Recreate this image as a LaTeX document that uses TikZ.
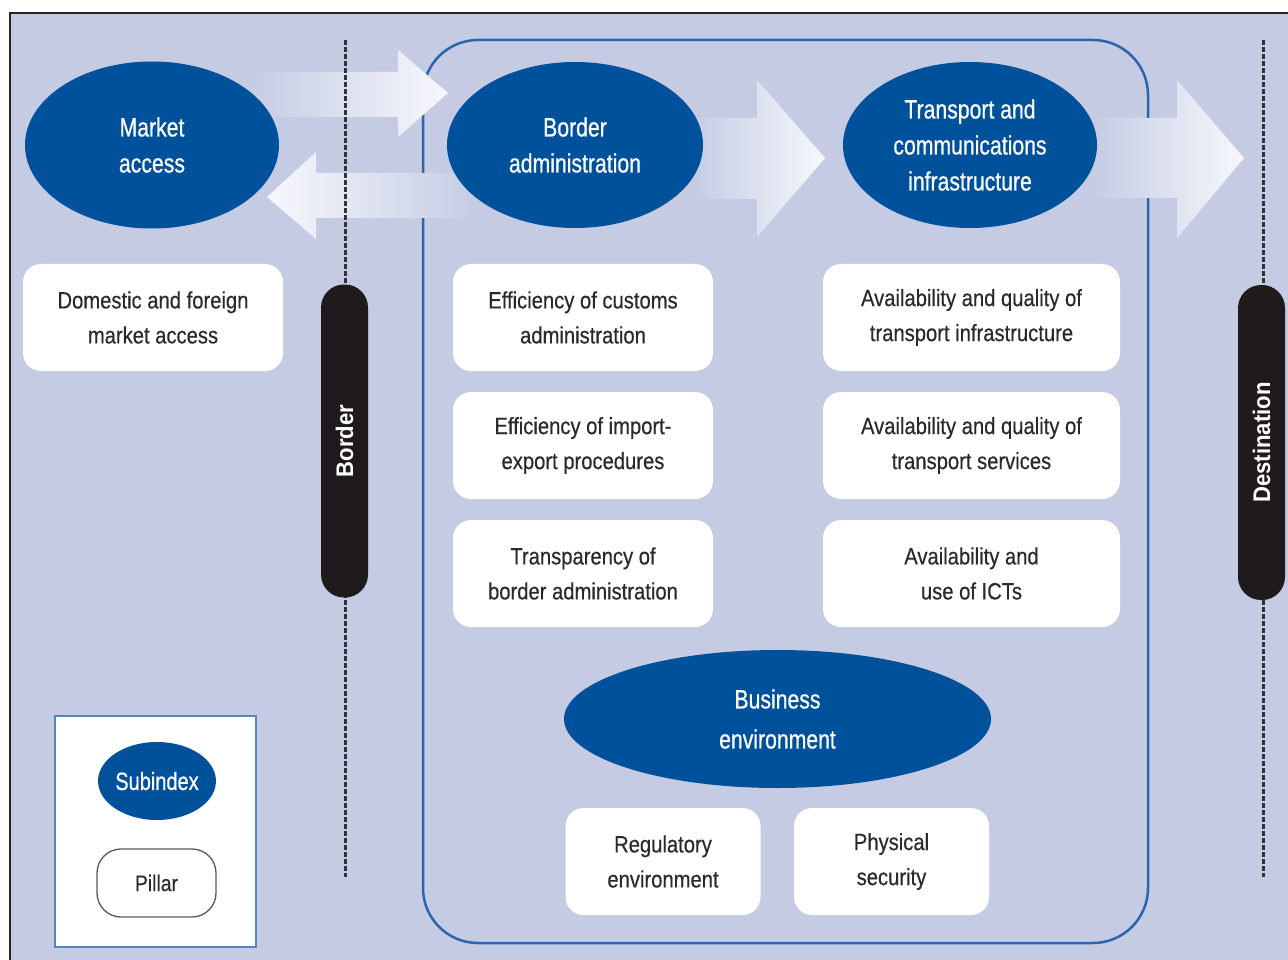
\documentclass[tikz,border=0pt]{standalone}
\usepackage{fontspec}
\setmainfont{Liberation Sans}
\newfontfamily\cn[FakeStretch=0.80,FakeBold=0.6]{Liberation Sans}
\newfontfamily\cp[FakeStretch=0.86,FakeBold=0.4]{Liberation Sans}
\newfontfamily\cb[FakeStretch=0.92]{Liberation Sans}
\usetikzlibrary{shapes.geometric}
\definecolor{bgc}{HTML}{C4CBE3}
\definecolor{ellblue}{HTML}{00519B}
\definecolor{rectblue}{HTML}{2B65AD}
\definecolor{legblue}{HTML}{4F86C6}
\definecolor{pilltext}{HTML}{2A2A2A}
\definecolor{barblack}{HTML}{1F1B1C}
\definecolor{tipwhite}{HTML}{F7F8FC}
\begin{document}
\begin{tikzpicture}[x=1pt,y=-1pt,
  subidx/.style={ellipse, fill=ellblue, text=white, inner sep=0pt, outer sep=0pt, align=center, font=\cn\fontsize{26.5}{36}\selectfont},
  pillar/.style={rectangle, rounded corners=18pt, fill=white, text=pilltext, inner sep=0pt, outer sep=0pt, align=center, minimum height=107pt, font=\cp\fontsize{23.5}{35}\selectfont},
  barlabel/.style={rectangle, rounded corners=23pt, fill=barblack, text=white, rotate=90, minimum width=313pt, minimum height=47pt, inner sep=0pt, font=\cb\bfseries\fontsize{24}{28}\selectfont},
  dline/.style={line width=3pt, dash pattern=on 5pt off 2pt, draw=black!80},
  fatarrow/.style={draw=none}
]
\useasboundingbox (0,0) rectangle (1288,960);
% background and frame
\fill[white] (0,0) rectangle (1288,960);
\fill[bgc] (10,13) rectangle (1288,960);
\draw[line width=2pt, black!85] (10,960) -- (10,13) -- (1288,13);
% big rounded region
\draw[rectblue, line width=2.5pt, rounded corners=55pt] (423,40) rectangle (1148,943);
% fat arrows
\shade[fatarrow, left color=bgc, right color=tipwhite]
  (248,72) -- (398,72) -- (398,50) -- (448,93) -- (398,137) -- (398,117) -- (248,117) -- cycle;
\shade[fatarrow, left color=tipwhite, right color=bgc]
  (267,197) -- (316,152) -- (316,173) -- (478,173) -- (478,218) -- (316,218) -- (316,239) -- cycle;
\shade[fatarrow, left color=bgc, right color=tipwhite]
  (690,118) -- (757,118) -- (757,80) -- (825,158) -- (757,237) -- (757,199) -- (690,199) -- cycle;
\shade[fatarrow, left color=bgc, right color=tipwhite]
  (1090,118) -- (1177,118) -- (1177,80) -- (1244,158) -- (1177,238) -- (1177,198) -- (1090,198) -- cycle;
% dashed lines and bars
\coordinate (dl1t) at (345,40);
\coordinate (dl1b) at (345,877);
\coordinate (dl2t) at (1263,40);
\coordinate (dl2b) at (1263,877);
\draw[dline] (dl1t) -- (dl1b);
\draw[dline] (dl2t) -- (dl2b);
\node[barlabel] (border) at (344.5,441) {Border};
\node[barlabel, minimum width=315pt] (dest) at (1261.5,442.5) {Destination};
% subindex ellipses
\node[subidx, minimum width=254pt, minimum height=167pt] (market) at (152,145) {Market\\access};
\node[subidx, minimum width=256pt, minimum height=166pt] (borderadm) at (575,145) {Border\\administration};
\node[subidx, minimum width=254pt, minimum height=166pt] (transport) at (970,145) {Transport and\\communications\\infrastructure};
\node[subidx, minimum width=427pt, minimum height=138pt, font=\cn\fontsize{26.5}{40}\selectfont] (business) at (777.5,719) {Business\\environment};
% pillars
\node[pillar, minimum width=260pt] (domestic) at (153,317.5) {Domestic and foreign\\market access};
\node[pillar, minimum width=260pt] (customs) at (583,317.5) {Efficiency of customs\\administration};
\node[pillar, minimum width=260pt] (impexp) at (583,445.5) {Efficiency of import-\\export procedures};
\node[pillar, minimum width=260pt] (transp) at (583,573.5) {Transparency of\\border administration};
\node[pillar, minimum width=297pt] (tinfra) at (971.5,317.5) {Availability and quality of\\transport infrastructure};
\node[pillar, minimum width=297pt] (tserv) at (971.5,445.5) {Availability and quality of\\transport services};
\node[pillar, minimum width=297pt] (ict) at (971.5,573.5) {Availability and\\use of ICTs};
\node[pillar, minimum width=195pt] (regul) at (663,861.5) {Regulatory\\environment};
\node[pillar, minimum width=195pt] (phys) at (891.5,861.5) {Physical\\security};
% legend
\node[rectangle, draw=legblue, line width=1.8pt, fill=white, minimum width=201pt, minimum height=231pt, inner sep=0pt] (legend) at (155.5,831.5) {};
\node[subidx, minimum width=116pt, minimum height=78pt, font=\cn\fontsize{25}{30}\selectfont] (legsub) at (157,781) {Subindex};
\node[pillar, draw=black!65, line width=1.3pt, rounded corners=24pt, minimum width=119pt, minimum height=68pt, font=\cp\fontsize{22.5}{30}\selectfont] (legpil) at (156.5,883) {Pillar};
\end{tikzpicture}
\end{document}
